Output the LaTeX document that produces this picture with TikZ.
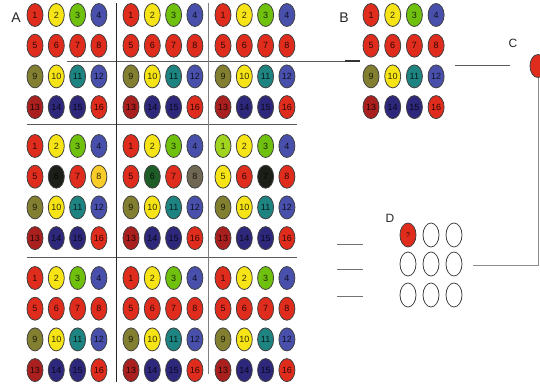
\documentclass[tikz,border=0pt]{standalone}
\usepackage{fontspec}
\setmainfont{Liberation Sans}
\usetikzlibrary{shapes.geometric}
\definecolor{cr}{RGB}{224,44,28}
\definecolor{cy}{RGB}{246,228,22}
\definecolor{cg}{RGB}{112,192,14}
\definecolor{cb}{RGB}{72,80,172}
\definecolor{co}{RGB}{130,128,48}
\definecolor{ct}{RGB}{30,132,130}
\definecolor{cd}{RGB}{170,32,30}
\definecolor{cn}{RGB}{46,40,124}
\definecolor{ck}{RGB}{28,30,24}
\definecolor{cgo}{RGB}{250,204,40}
\definecolor{cdg}{RGB}{30,92,40}
\definecolor{cgb}{RGB}{112,104,82}
\definecolor{cyg}{RGB}{160,212,30}
\definecolor{ln}{RGB}{90,90,90}
\tikzset{
  ov/.style={ellipse, draw=black!75, line width=0.8pt, minimum width=16pt,
    minimum height=23pt, inner sep=0pt, font=\fontsize{9}{9}\selectfont, text opacity=0.8},
  dov/.style={ov, minimum height=24pt, fill=white},
  lab/.style={font=\fontsize{14}{14}\selectfont, text=black!85},
  labs/.style={font=\fontsize{12}{12}\selectfont, text=black!85},
  sep/.style={draw=ln, line width=0.9pt},
}
\begin{document}
\begin{tikzpicture}[x=1pt,y=-1pt]
\useasboundingbox (0,0) rectangle (540,385);
\clip (0,0) rectangle (540,385);
% separator lines of A
\draw[sep] (67,61) -- (345,61);
\draw[draw=black!80, line width=1.1pt] (345,61) -- (360,61);
\draw[sep] (27,124) -- (297,124);
\draw[sep] (27,257) -- (297,257);
\draw[draw=black!85, line width=0.9pt] (116,3) -- (116,382);
\draw[draw=black!50, line width=1pt] (208,3) -- (208,374);
% A grid
\foreach \bi/\by/\bj/\bx/\L in {
  1/15/1/35/{cr,cy,cg,cb,cr,cr,cr,cr,co,cy,ct,cb,cd,cn,cn,cr},
  1/15/2/131/{cr,cy,cg,cb,cr,cr,cr,cr,co,cy,ct,cb,cd,cn,cn,cr},
  1/15/3/223/{cr,cy,cg,cb,cr,cr,cr,cr,co,cy,ct,cb,cd,cn,cn,cr},
  2/146/1/35/{cr,cy,cg,cb,cr,ck,cr,cgo,co,cy,ct,cb,cd,cn,cn,cr},
  2/146/2/131/{cr,cy,cg,cb,cr,cdg,cr,cgb,co,cy,ct,cb,cd,cn,cn,cr},
  2/146/3/223/{cyg,cy,cg,cb,cy,cr,ck,cr,co,cy,ct,cb,cd,cn,cn,cr},
  3/278/1/35/{cr,cy,cg,cb,cr,cr,cr,cr,co,cy,ct,cb,cd,cn,cn,cr},
  3/278/2/131/{cr,cy,cg,cb,cr,cr,cr,cr,co,cy,ct,cb,cd,cn,cn,cr},
  3/278/3/223/{cr,cy,cg,cb,cr,cr,cr,cr,co,cy,ct,cb,cd,cn,cn,cr}} {
  \foreach \c [count=\k from 0] in \L {
    \pgfmathsetmacro\xx{\bx+mod(\k,4)*21.3}
    \pgfmathsetmacro\yy{\by+floor(\k/4)*30.7}
    \pgfmathtruncatemacro\n{\k+1}
    \node[ov, fill=\c] (A\bi\bj-\n) at (\xx,\yy) {\n};
  }
}
% B grid
\foreach \c [count=\k from 0] in {cr,cy,cg,cb,cr,cr,cr,cr,co,cy,ct,cb,cd,cn,cn,cr} {
  \pgfmathsetmacro\xx{371+mod(\k,4)*21.7}
  \pgfmathsetmacro\yy{15+floor(\k/4)*30.7}
  \pgfmathtruncatemacro\n{\k+1}
  \node[ov, fill=\c] (B-\n) at (\xx,\yy) {\n};
}
% labels
\node[lab] (labA) at (16,18) {A};
\node[lab] (labB) at (344,18) {B};
\node[labs] (labC) at (513,43) {C};
\node[labs] (labD) at (390,218) {D};
% C
\draw[sep] (455,65) -- (510,65);
\node[ov, fill=cr] (C) at (538,66) {};
\coordinate (cEnd) at (473,265);
\draw[draw=black!45, line width=0.9pt] (C.south) |- (cEnd);
% D
\node[ov, fill=cr, minimum height=24pt, font=\fontsize{7}{7}\selectfont] (D11) at (408,235) {?};
\node[dov] (D12) at (431,235) {};
\node[dov] (D13) at (454,235) {};
\node[dov] (D21) at (408,264) {};
\node[dov] (D22) at (431,264) {};
\node[dov] (D23) at (454,264) {};
\node[dov] (D31) at (408,295) {};
\node[dov] (D32) at (431,295) {};
\node[dov] (D33) at (454,295) {};
\draw[draw=black!55, line width=0.9pt] (337,244) -- (363,244);
\draw[draw=black!55, line width=0.9pt] (337,269) -- (363,269);
\draw[draw=black!55, line width=0.9pt] (337,296) -- (363,296);
\end{tikzpicture}
\end{document}
